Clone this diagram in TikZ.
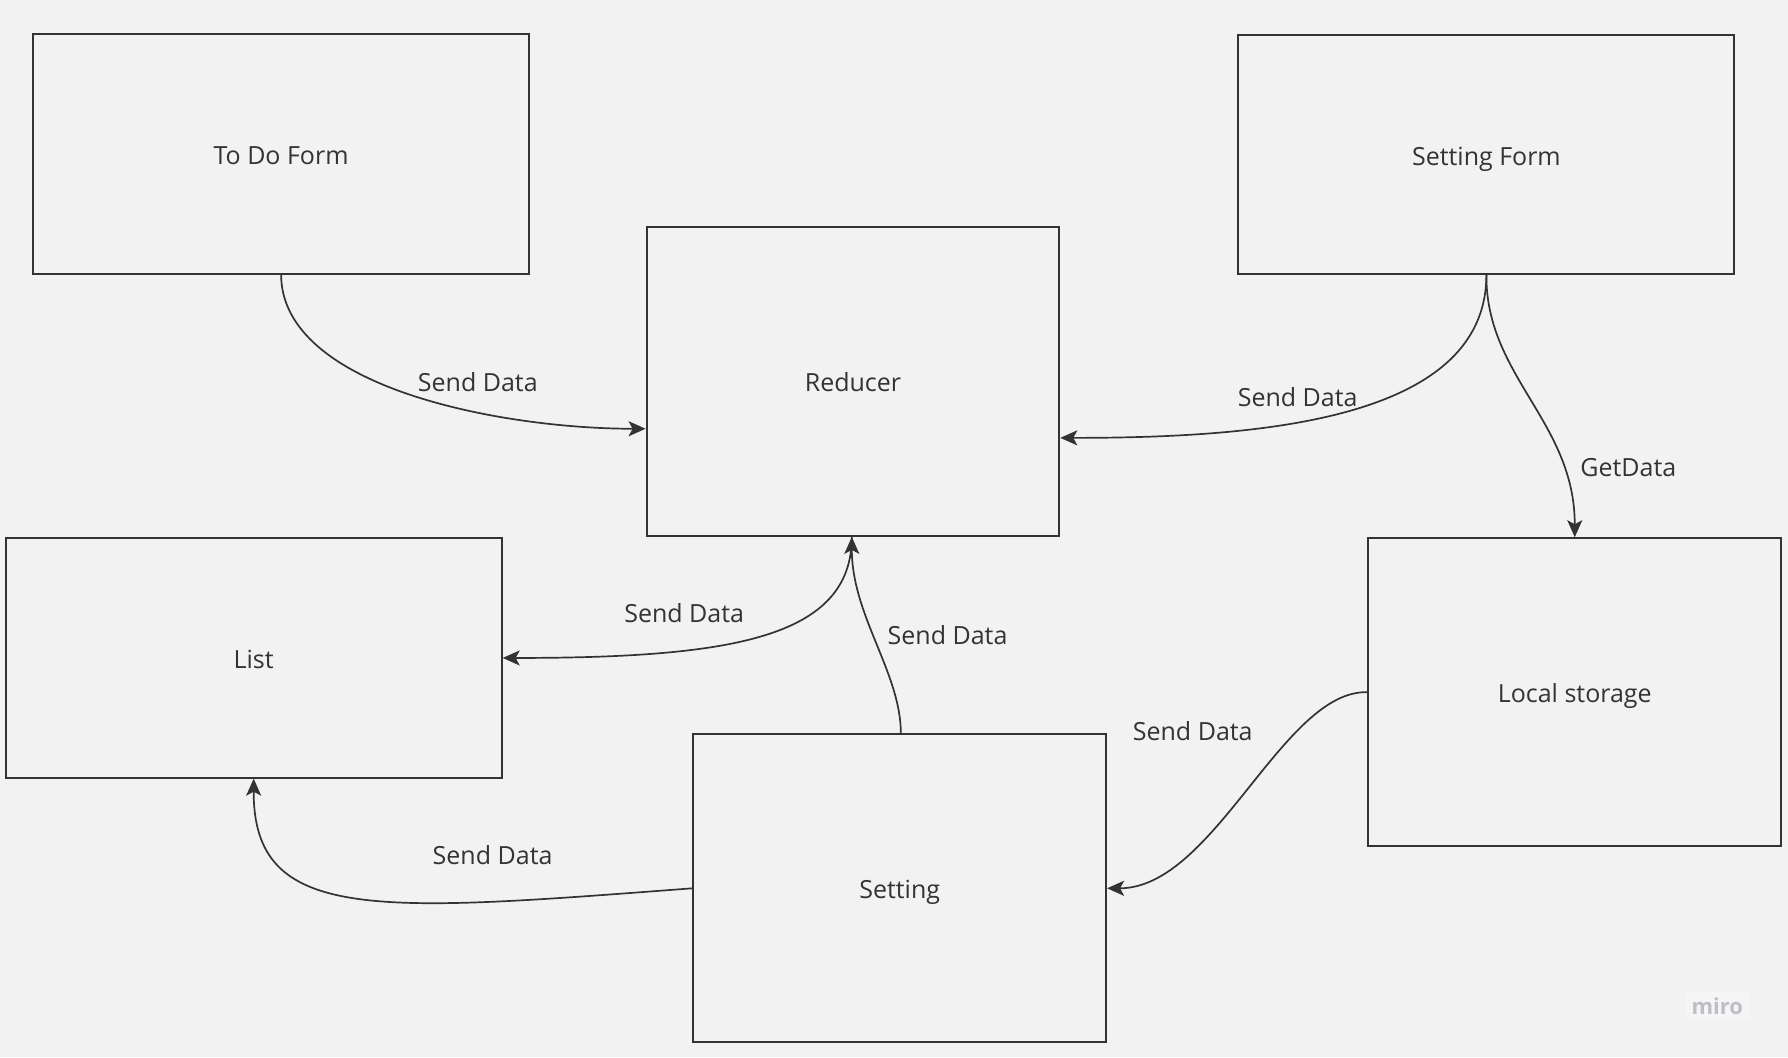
\documentclass[tikz,border=0pt]{standalone}
\usepackage{fontspec}
\setmainfont{Open Sans}
\usetikzlibrary{arrows.meta,calc}
\definecolor{bg}{HTML}{F2F2F2}
\definecolor{ink}{HTML}{333333}
\definecolor{mirogrey}{HTML}{BEBEC7}
\definecolor{mirobg}{HTML}{F5F5F5}
\begin{document}
\begin{tikzpicture}[x=1.1403pt,y=-1.1403pt,
  box/.style={draw=ink,line width=1.9pt,rectangle,inner sep=0pt,text=ink,text height=24pt,text depth=3pt,font=\fontsize{25}{30}\selectfont},
  wide/.style={minimum width=496pt,minimum height=239.5pt},
  square/.style={minimum width=412.8pt,minimum height=308pt},
  conn/.style={draw=ink,line width=1.7pt,-{Stealth[length=17pt,width=15pt,inset=4pt]}},
  lbl/.style={text=ink,inner sep=0pt,font=\fontsize{25}{30}\selectfont}]
\fill[bg] (0,0) rectangle (1568,927);
\useasboundingbox (0,0) rectangle (1568,927);

\node[box,wide] (todo) at (246.5,135) {To Do Form};
\node[box,wide] (sform) at (1303.5,135.5) {Setting Form};
\node[box,square,minimum height=309pt] (red) at (748,334.5) {Reducer};
\node[box,wide] (list) at (222.5,577) {List};
\node[box,square] (local) at (1381,607) {Local storage};
\node[box,square] (set) at (789,779) {Setting};

\coordinate (redL) at ($(red.west)+(0,41.5)$);
\coordinate (redR) at ($(red.east)+(0,49.5)$);
\coordinate (redB) at ($(red.south)+(-1,0)$);
\coordinate (setT) at ($(set.north)+(1,0)$);
\coordinate (locT) at (local.north);

\draw[conn] (todo.south) .. controls (247,340) and (440,376) .. (redL);
\draw[conn] (sform.south) .. controls (1303,370) and (1100,384) .. (redR);
\draw[conn] (sform.south) .. controls (1303,330) and (1381,370) .. (locT);
\draw[conn] (redB) .. controls (747,560) and (640,577) .. (list.east);
\draw[conn] (setT) .. controls (790,590) and (747,540) .. (redB);
\draw[conn] (local.west) .. controls (1125,605) and (1065,779) .. (set.east);
\draw[conn] (set.west) .. controls (330,800) and (222,810) .. (list.south);

\node[lbl] (l1) at (419,335) {Send Data};
\node[lbl] (l2) at (1138,348) {Send Data};
\node[lbl] (l3) at (1428,410) {GetData};
\node[lbl] (l4) at (600,538) {Send Data};
\node[lbl] (l5) at (831,557) {Send Data};
\node[lbl] (l6) at (1046,641) {Send Data};
\node[lbl] (l7) at (432,750) {Send Data};

\node[fill=mirobg,text=mirogrey,inner xsep=6pt,inner ysep=5pt,font=\fontsize{22}{26}\selectfont\bfseries] (miro) at (1506,882) {miro};
\end{tikzpicture}
\end{document}
